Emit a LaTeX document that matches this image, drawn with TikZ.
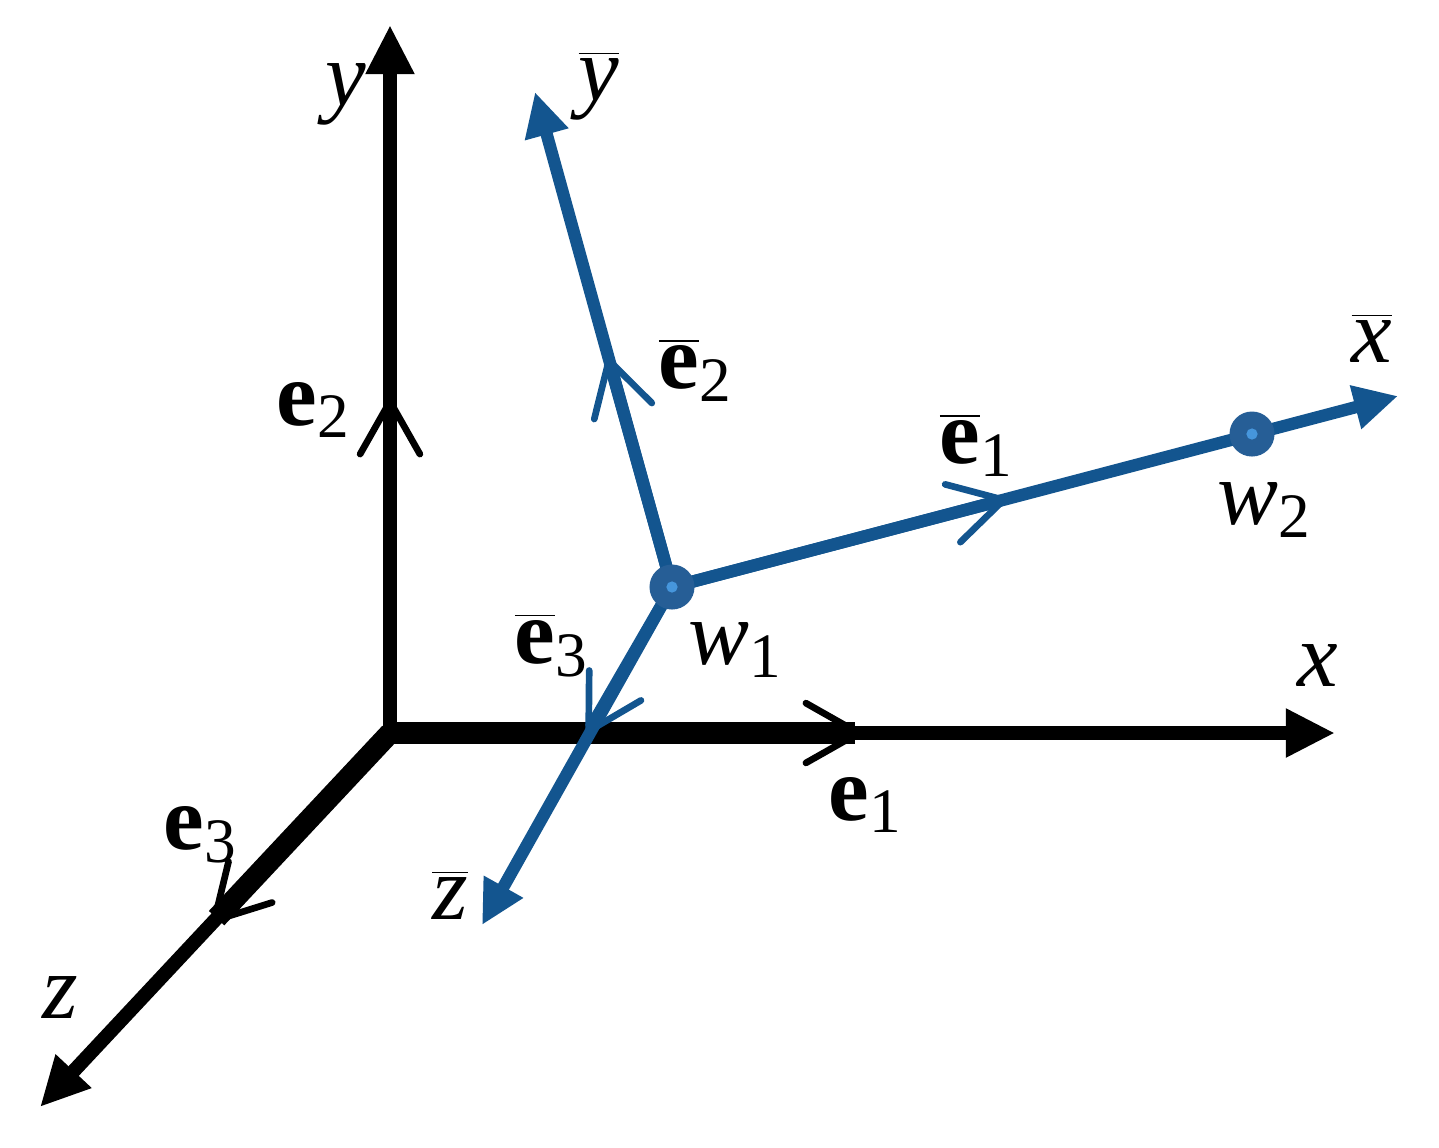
\documentclass[tikz,border=0pt]{standalone}
\usepackage{fontspec}
\setmainfont{LiberationSerif}[Extension=.ttf, UprightFont=*-Regular, BoldFont=*-Bold,
  ItalicFont=*-Italic, BoldItalicFont=*-BoldItalic]
\usetikzlibrary{arrows.meta,positioning}
\definecolor{frameblue}{RGB}{19,85,143}
\definecolor{dotblue}{RGB}{38,94,150}
\definecolor{dotlight}{RGB}{70,150,220}
\newcommand{\idx}[1]{\raisebox{-0.3ex}{\fontsize{18}{18}\selectfont #1}}
\newcommand{\ovl}[1]{$\overline{\hbox{#1}}$}

\begin{document}
\begin{tikzpicture}[x=0.01cm, y=-0.01cm,
    axis/.style={line width=4pt, -{Triangle[length=14pt,width=13pt]}},
    unitvec/.style={line width=6pt, -{Straight Barb[length=15pt,width=17pt,line width=1.9pt,round]}},
    frame/.style={frameblue, line width=3.5pt, -{Triangle[length=12.5pt,width=12pt]}},
    framevec/.style={frameblue, line width=3.5pt, -{Straight Barb[length=15pt,width=17pt,line width=1.9pt,round]}},
    wdot/.style={circle, fill=dotblue, minimum size=0.45cm, inner sep=0pt,
      path picture={\fill[dotlight] (path picture bounding box.center) circle (1.6pt);}},
    lab/.style={inner sep=0pt, font=\fontsize{26}{30}\selectfont}]
    \useasboundingbox (0,0) rectangle (1439,1147);

    % global frame
    \coordinate (O) at (390,733);
    \coordinate (xtip) at (1335,733);
    \coordinate (ytip) at (390,25);
    \coordinate (ztip) at (40,1107);
    \coordinate (e1) at (862,733);
    \coordinate (e2) at (390,398);
    \coordinate (e3) at (212,923);

    \draw[axis] (O) -- (xtip);
    \draw[axis] (O) -- (ytip);
    \draw[axis] (O) -- (ztip);
    \draw[unitvec] (O) -- (e1);
    \draw[unitvec, line width=4pt] (O) -- (e2);
    \draw[unitvec] (O) -- (e3);

    % local frame at w1
    \coordinate (w1) at (672,587);
    \coordinate (w2) at (1252,434);
    \coordinate (xbar) at (1398,396);
    \coordinate (ybar) at (535,92);
    \coordinate (zbar) at (482,925);
    \coordinate (e1bar) at (1007,499);
    \coordinate (e2bar) at (608,357);
    \coordinate (e3bar) at (587,734);

    \draw[frame] (w1) -- (xbar);
    \draw[frame] (w1) -- (ybar);
    \draw[frame] (w1) -- (zbar);
    \draw[framevec] (w1) -- (e1bar);
    \draw[framevec] (w1) -- (e2bar);
    \draw[framevec] (w1) -- (e3bar);

    \node[wdot] (w1dot) at (w1) {};
    \node[wdot] (w2dot) at (w2) {};

    % labels
    \node[lab] (lab-y) at (346,94) {\textit{y}};
    \node[lab] (lab-x) at (1318,665) {\textit{x}};
    \node[lab] (lab-z) at (60,997) {\textit{z}};
    \node[lab] (lab-e1) at (865,805) {\textbf{e}\idx{1}};
    \node[lab] (lab-e2) at (313,410) {\textbf{e}\idx{2}};
    \node[lab] (lab-e3) at (200,835) {\textbf{e}\idx{3}};
    \node[lab] (lab-ybar) at (599,86) {\ovl{\textit{y}}};
    \node[lab] (lab-xbar) at (1372,338) {\ovl{\textit{x}}};
    \node[lab] (lab-zbar) at (450,895) {\ovl{\textit{z}}};
    \node[lab] (lab-e1bar) at (976,445) {\ovl{\textbf{e}}\idx{1}};
    \node[lab] (lab-e2bar) at (695,370) {\ovl{\textbf{e}}\idx{2}};
    \node[lab] (lab-e3bar) at (551,645) {\ovl{\textbf{e}}\idx{3}};
    \node[lab] (lab-w1) at (735,650) {\textit{w}\idx{1}};
    \node[lab] (lab-w2) at (1264,510) {\textit{w}\idx{2}};
\end{tikzpicture}
\end{document}
